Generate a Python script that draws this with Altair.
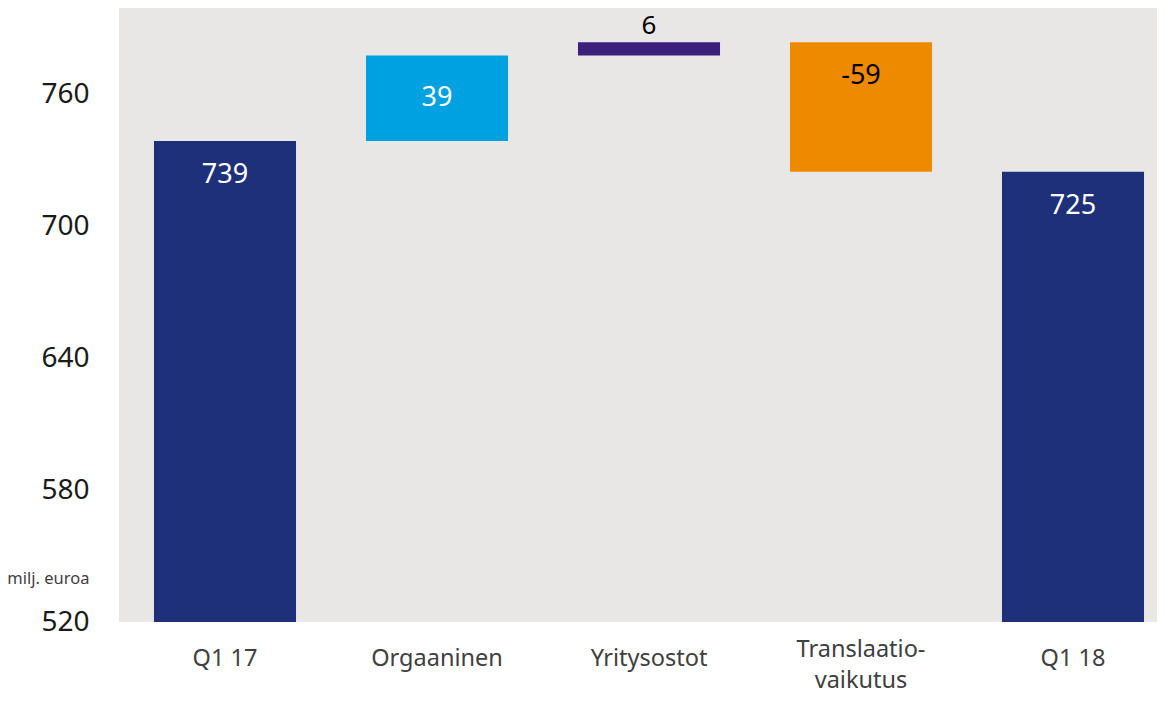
import altair as alt
import pandas as pd

categories = ["Q1 17", "Orgaaninen", "Yritysostot", "Translaatio-vaikutus", "Q1 18"]
amounts = [739, 39, 6, -59, 725]
kinds = ["total", "delta", "delta", "delta", "total"]
colors = ["#1F307A", "#00A1E0", "#3A1F7C", "#EE8A00", "#1F307A"]
label_colors = ["#FFFFFF", "#FFFFFF", "#000000", "#000000", "#FFFFFF"]
label_place = ["top", "middle", "above", "top", "top"]
y_ticks = [520, 580, 640, 700, 760]
y_min, y_max = 520, 799.6

rows = []
running = 0
for cat, amt, kind, col, lcol, place in zip(categories, amounts, kinds, colors, label_colors, label_place):
    if kind == "total":
        start, end = y_min, amt
        running = amt
    else:
        start, end = running, running + amt
        running = end
    rows.append(dict(cat=cat, start=start, end=end, hi=max(start, end), lo=min(start, end),
                     mid=(start + end) / 2, label=str(amt), color=col, lcolor=lcol, place=place))
df = pd.DataFrame(rows)

font = "Noto Sans"

x = alt.X("cat:N", sort=categories, title=None,
          scale=alt.Scale(range=[0, 1060], paddingInner=0.33, paddingOuter=0.165),
          axis=alt.Axis(labelAngle=0, ticks=False, tickSize=0, domain=False,
                        labelPadding={"condition": {"test": "indexof(datum.label, '-') >= 0", "value": 15},
                                      "value": 24},
                        labelFont=font, labelFontSize=23.5, labelColor="#404040",
                        labelLineHeight=31,
                        labelExpr="split(replace(datum.label, '-', '-|'), '|')"))

base = alt.Chart(df)

bars = base.mark_bar().encode(
    x=x,
    y=alt.Y("start:Q", scale=alt.Scale(domain=[y_min, y_max], nice=False, zero=False), title="milj. euroa",
            axis=alt.Axis(values=y_ticks, grid=False, domain=False, ticks=False, tickSize=0,
                          labelPadding=30, labelFont=font, labelFontSize=28, labelColor="#1A1A1A",
                          titleAngle=0, titleX=-30, titleY=570, titleAlign="right",
                          titleBaseline="middle", titleFont=font, titleFontSize=16.5,
                          titleFontWeight="normal", titleColor="#404040")),
    y2="end:Q",
    color=alt.Color("color:N", scale=None),
)

txt_top = base.transform_filter("datum.place == 'top'").mark_text(
    font=font, fontSize=27, baseline="middle", dy=34).encode(
    x=alt.X("cat:N", sort=categories), y=alt.Y("hi:Q"), text="label:N",
    color=alt.Color("lcolor:N", scale=None))

txt_mid = base.transform_filter("datum.place == 'middle'").mark_text(
    font=font, fontSize=27, baseline="middle").encode(
    x=alt.X("cat:N", sort=categories), y=alt.Y("mid:Q"), text="label:N",
    color=alt.Color("lcolor:N", scale=None))

txt_above = base.transform_filter("datum.place == 'above'").mark_text(
    font=font, fontSize=26, baseline="middle", dy=-16).encode(
    x=alt.X("cat:N", sort=categories), y=alt.Y("hi:Q"), text="label:N",
    color=alt.Color("lcolor:N", scale=None))

chart = alt.layer(bars, txt_top, txt_mid, txt_above).properties(
    width=1038, height=614,
    autosize=alt.AutoSizeParams(type="none"),
    padding={"left": 111, "top": 0, "right": 0, "bottom": 71},
    background="#FFFFFF",
).configure_view(fill="#E9E7E6", stroke=None)

chart.save("out.html", embed_options={"renderer": "svg", "actions": False})
